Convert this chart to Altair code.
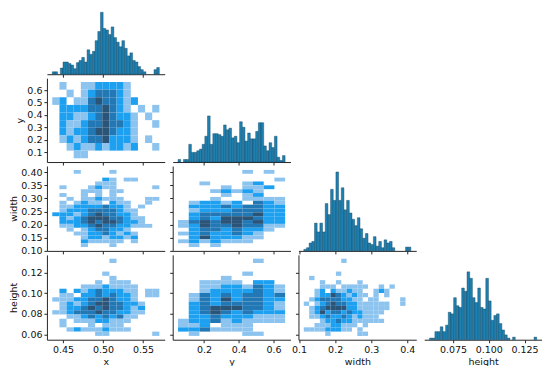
import altair as alt
import pandas as pd

# ---------------- data ----------------
# bin ranges (data min / max) of each variable
X_RANGE = (0.4365, 0.5705)
Y_RANGE = (0.051, 0.666)
W_RANGE = (0.113, 0.410)
H_RANGE = (0.0586, 0.1335)

# axis domains (data range plus margins)
X_DOM = [0.4298, 0.5772]
Y_DOM = [0.0203, 0.6968]
W_DOM = [0.0982, 0.4249]
H_DOM = [0.0549, 0.1372]

# diagonal histograms (40 bins each, relative bar heights)
x_counts = [8, 8, 0, 20, 40, 40, 35, 30, 18, 38, 45, 55, 40, 80, 65, 75, 110, 140, 203, 150,
            145, 130, 155, 120, 105, 90, 110, 85, 60, 70, 45, 40, 25, 15, 8, 0, 0, 0, 15, 22]
y_counts = [8, 0, 8, 8, 55, 30, 30, 35, 40, 55, 80, 143, 55, 88, 88, 85, 80, 115, 100, 105,
            75, 80, 60, 125, 108, 65, 90, 72, 72, 95, 122, 122, 50, 35, 60, 45, 80, 15, 5, 20]
w_counts = [5, 10, 25, 30, 88, 60, 88, 60, 150, 115, 195, 160, 250, 160, 200, 130, 160, 120, 100, 80,
            105, 70, 40, 55, 25, 20, 45, 15, 30, 10, 35, 25, 30, 10, 0, 0, 0, 0, 12, 12]
h_counts = [5, 5, 25, 25, 40, 25, 45, 85, 80, 130, 105, 100, 160, 150, 210, 190, 130, 115, 160, 100,
            95, 190, 120, 60, 75, 80, 50, 30, 15, 5, 0, 8, 0, 0, 0, 0, 0, 0, 0, 8]
# share of the panel height reached by the tallest bar (diagonals share one count axis)
diag_peak = {"x": 0.94, "y": 0.55, "width": 0.93, "height": 0.80}

# bivariate histograms: density level per cell (0 empty .. 4 darkest), rows from top to bottom
grid_x_y = [
    "010011222210000",
    "001012333210000",
    "120113433212000",
    "022223343210101",
    "022112343221010",
    "021123343321001",
    "021223443221000",
    "012123342221010",
    "001211212212001",
    "000110000000000",
]
grid_x_w = [
    "000100001000000",
    "000000000000000",
    "000000021011000",
    "000000111000000",
    "010001211000001",
    "000011101100000",
    "010010101000000",
    "001011211100011",
    "010121102110010",
    "011222232210100",
    "012223333211000",
    "222123433221000",
    "021234443321100",
    "022234344322100",
    "011223433221110",
    "001012332210000",
    "000112232121000",
    "000012212212000",
    "000021111101000",
    "000010001000000",
]
grid_x_h = [
    "000000001000000",
    "000000000000000",
    "000000000000000",
    "000000010000000",
    "000000001000000",
    "000000101110000",
    "000011121111000",
    "020212322211011",
    "011022323221011",
    "111223343221000",
    "012123443322100",
    "012234343321200",
    "112333433221100",
    "001123232311000",
    "010111221110000",
    "010001011100000",
    "001211121110000",
    "000000110000001",
]
grid_y_w = [
    "0000001010",
    "0000000000",
    "0000000001",
    "0010001200",
    "0000101120",
    "0001212100",
    "0000101200",
    "0001001111",
    "0122120321",
    "0222323322",
    "0122233322",
    "0233333422",
    "0232444322",
    "1343443422",
    "1243343311",
    "0233232210",
    "1232232100",
    "0242221100",
    "1212111000",
    "0101000000",
]
grid_y_h = [
    "0000000100",
    "0000000000",
    "0000000000",
    "0000001000",
    "0000100000",
    "0011110220",
    "0011221321",
    "0012222321",
    "0132323323",
    "0132423322",
    "0232333321",
    "0234443321",
    "0234323222",
    "0223222111",
    "1223121111",
    "1120111000",
    "2231111000",
    "0100001100",
]
grid_w_h = [
    "00000001000000000000",
    "00000000000000000000",
    "00000000000000000000",
    "00000010000000000000",
    "01000000000000000000",
    "00010010001000000000",
    "00011101111100101000",
    "00120211211001210000",
    "00122432121101010000",
    "01233332211011000010",
    "10123433221111110010",
    "01234444221111110000",
    "01242332322111100000",
    "01123223212111000000",
    "00012232211111100000",
    "00111221110100000000",
    "11112221101000000000",
    "00001000001100000000",
]

LEVELS = [1, 2, 3, 4]
LEVEL_COLORS = ["#8cc4ef", "#1ea0f0", "#2277b5", "#2b5479"]
BAR_FILL = "#1f80b0"
BAR_EDGE = "#0f3f5a"

# tick values / formats
VARS = {
    "x": dict(rng=X_RANGE, dom=X_DOM, xt=[0.45, 0.50, 0.55], xf=".2f", yt=[], yf=".2f"),
    "y": dict(rng=Y_RANGE, dom=Y_DOM, xt=[0.2, 0.4, 0.6], xf=".1f",
              yt=[0.1, 0.2, 0.3, 0.4, 0.5, 0.6], yf=".1f"),
    "width": dict(rng=W_RANGE, dom=W_DOM, xt=[0.1, 0.2, 0.3, 0.4], xf=".1f",
                  yt=[0.10, 0.15, 0.20, 0.25, 0.30, 0.35, 0.40], yf=".2f"),
    "height": dict(rng=H_RANGE, dom=H_DOM, xt=[0.075, 0.100, 0.125], xf=".3f",
                   yt=[0.06, 0.08, 0.10, 0.12], yf=".2f"),
}
ORDER = ["x", "y", "width", "height"]
COL_W = 118
ROW_H = [66, 84, 85, 85]


def x_enc(var, bottom):
    v = VARS[var]
    return alt.X("a:Q", scale=alt.Scale(domain=v["dom"], nice=False, zero=False),
                 axis=alt.Axis(values=v["xt"], format=v["xf"], labels=bottom,
                               title=var if bottom else None, labelFlush=False))


def y_enc(var, left):
    v = VARS[var]
    return alt.Y("c:Q", scale=alt.Scale(domain=v["dom"], nice=False, zero=False),
                 axis=alt.Axis(values=v["yt"], format=v["yf"], labels=left,
                               title=var if left else None, labelFlush=False))


def hist1d(var, counts, bottom, h):
    lo, hi = VARS[var]["rng"]
    n = len(counts)
    bw = (hi - lo) / n
    df = pd.DataFrame({
        "a": [lo + i * bw for i in range(n)],
        "b": [lo + (i + 1) * bw for i in range(n)],
        "n": counts,
        "z": [0] * n,
    })
    df = df[df["n"] > 0]
    top = max(counts) / diag_peak[var]
    return alt.Chart(df).mark_rect(fill=BAR_FILL, stroke=BAR_EDGE, strokeWidth=0.4).encode(
        x=x_enc(var, bottom),
        x2="b:Q",
        y=alt.Y("n:Q", scale=alt.Scale(domain=[0, top], nice=False), axis=None),
        y2="z:Q",
    ).properties(width=COL_W, height=h)


def hist2d(xv, yv, rows, left, bottom, h):
    xr = VARS[xv]["rng"]
    yr = VARS[yv]["rng"]
    nr = len(rows)
    nc = len(rows[0])
    dx = (xr[1] - xr[0]) / nc
    dy = (yr[1] - yr[0]) / nr
    recs = []
    for r, s in enumerate(rows):
        yi = nr - 1 - r
        for c, ch in enumerate(s):
            if ch != "0":
                recs.append(dict(a=xr[0] + c * dx, b=xr[0] + (c + 1) * dx,
                                 c=yr[0] + yi * dy, d=yr[0] + (yi + 1) * dy, lvl=int(ch)))
    df = pd.DataFrame(recs)
    return alt.Chart(df).mark_rect().encode(
        x=x_enc(xv, bottom),
        x2="b:Q",
        y=y_enc(yv, left),
        y2="d:Q",
        color=alt.Color("lvl:O", scale=alt.Scale(domain=LEVELS, range=LEVEL_COLORS), legend=None),
    ).properties(width=COL_W, height=h)


def blank(h):
    return alt.Chart(pd.DataFrame({"a": [0], "c": [0]})).mark_point(opacity=0).encode(
        x=alt.X("a:Q", axis=None), y=alt.Y("c:Q", axis=None)
    ).properties(width=COL_W, height=h)


grids = {
    ("x", "y"): grid_x_y, ("x", "width"): grid_x_w, ("x", "height"): grid_x_h,
    ("y", "width"): grid_y_w, ("y", "height"): grid_y_h, ("width", "height"): grid_w_h,
}
diag = {"x": x_counts, "y": y_counts, "width": w_counts, "height": h_counts}

cells = []
for ri, rv in enumerate(ORDER):
    for ci, cv in enumerate(ORDER):
        bottom = ri == 3
        h = ROW_H[ri]
        if ci == ri:
            cells.append(hist1d(cv, diag[cv], bottom, h))
        elif ci < ri:
            cells.append(hist2d(cv, rv, grids[(cv, rv)], ci == 0, bottom, h))
        else:
            cells.append(blank(h))

chart = alt.concat(*cells, columns=4, spacing={"row": 4, "column": 8},
                   bounds="flush", align="each").properties(
    padding=0
).configure_view(stroke=None).configure_axis(
    grid=False,
    domainColor="#262626", tickColor="#262626", domainWidth=1, tickWidth=1, tickSize=3,
    labelFont="DejaVu Sans", titleFont="DejaVu Sans", labelFontSize=9.5, titleFontSize=9.5,
    titleFontWeight="normal", labelColor="#111", titleColor="#111",
    labelPadding=2, titlePadding=2,
)

chart.save("out.html", embed_options={"renderer": "svg", "actions": False})
